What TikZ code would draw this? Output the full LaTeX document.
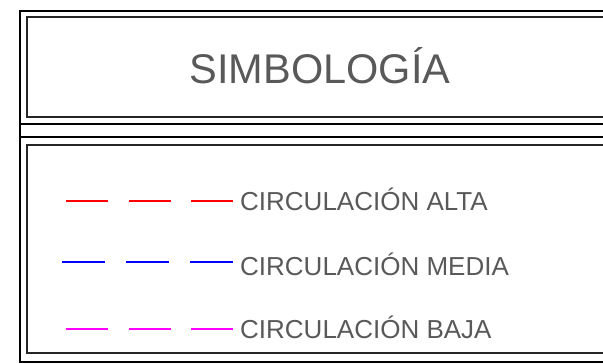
\documentclass[tikz,border=0pt]{standalone}
\usepackage{fontspec}
\setmainfont{Liberation Sans}
\usetikzlibrary{positioning}
\definecolor{baja_color}{RGB}{255,0,255}

\begin{document}
\begin{tikzpicture}[x=1pt, y=-1pt]
            % Estilos
            \tikzstyle{marco}=[draw=black, line width=2pt]
            \tikzstyle{caja}=[draw=black!85, line width=2pt]
            \tikzstyle{titulo}=[text=black!65, font=\fontsize{41.5}{41.5}\selectfont, inner sep=0pt]
            \tikzstyle{etiqueta}=[text=black!65, font=\fontsize{26}{26}\selectfont, inner sep=0pt, anchor=west]
            \tikzstyle{linea}=[line width=1.7pt, dash pattern=on 42pt off 20.5pt]

            \useasboundingbox (0,0) rectangle (603,364);
            \clip (0,0) rectangle (603,364);

            % Marcos
            \draw[marco] (660,11) -- (20,11) -- (20,362) -- (660,362);
            \draw[marco] (20,124) -- (660,124);
            \draw[marco] (20,137) -- (660,137);
            \draw[caja] (27,17) rectangle (640,117);
            \draw[caja] (27,145) rectangle (640,353);

            % Nodos
            \node[titulo] (simbologia) at (320,66) {SIMBOLOGÍA};
            \node[etiqueta] (alta) at (240,199) {CIRCULACIÓN ALTA};
            \node[etiqueta] (media) at (240,264) {CIRCULACIÓN MEDIA};
            \node[etiqueta] (baja) at (240,327) {CIRCULACIÓN BAJA};

            \coordinate[left=174pt of alta.west] (ini_alta);
            \coordinate[left=178pt of media.west] (ini_media);
            \coordinate[left=174pt of baja.west] (ini_baja);

            % Líneas
            \draw[linea, red] ([yshift=-2pt]ini_alta) -- ([xshift=-7pt, yshift=-2pt]alta.west);
            \draw[linea, blue, dash pattern=on 43pt off 21pt] ([yshift=2pt]ini_media) -- ([xshift=-7pt, yshift=2pt]media.west);
            \draw[linea, baja_color] ([yshift=-2pt]ini_baja) -- ([xshift=-7pt, yshift=-2pt]baja.west);
      \end{tikzpicture}
\end{document}
